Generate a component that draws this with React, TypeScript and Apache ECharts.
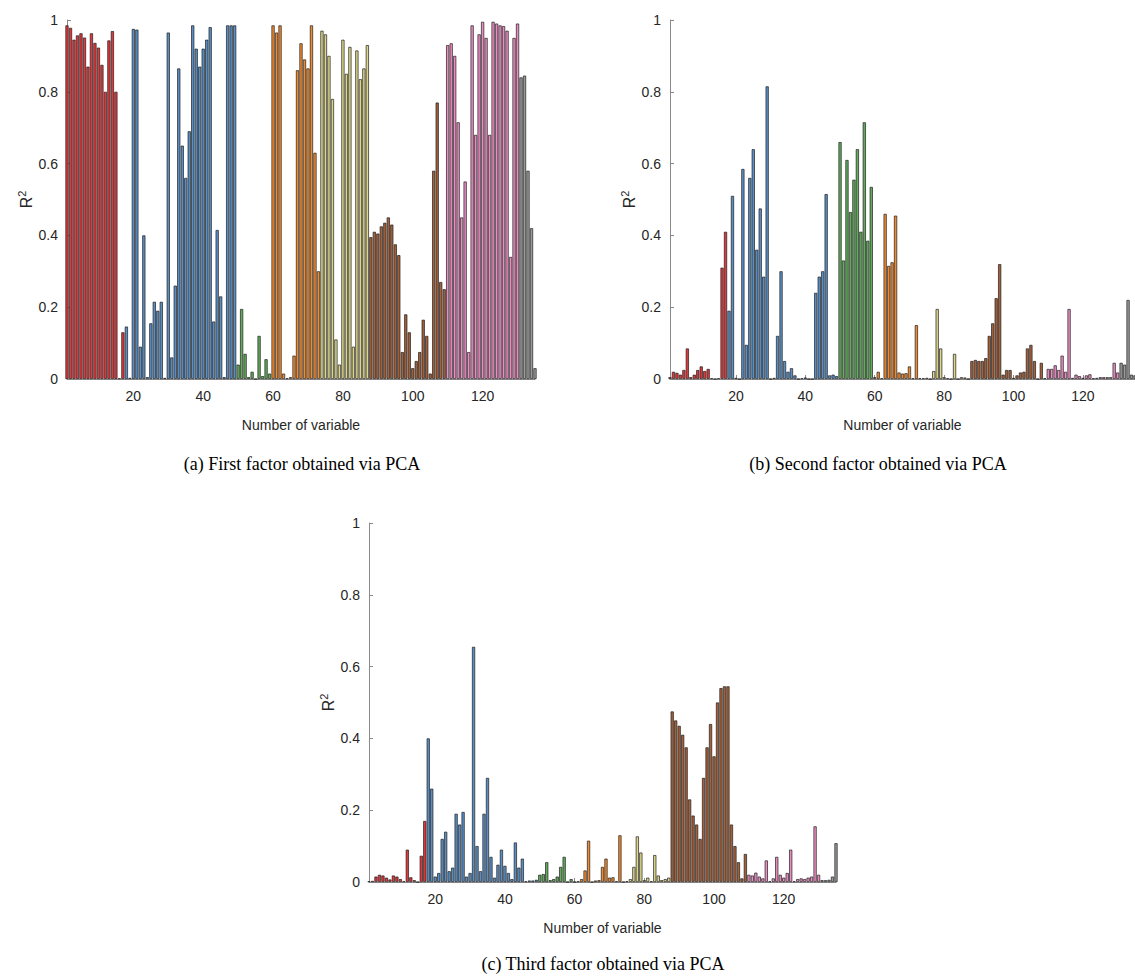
import React, { useEffect, useRef } from "react";
import * as echarts from "echarts";

// ---------- data ----------
const variableCount = 135;
// first variable index of each colour group
const groupStarts = [1, 18, 50, 60, 74, 88, 110, 131];
const groupColors = ["#e2373b", "#5a8fc6", "#62ad5b", "#f28a2e", "#ddd68a", "#a5603a", "#ec8cc1", "#9a9a9a"];
const xTickValues = [20, 40, 60, 80, 100, 120];

// (a) R^2 with the first factor
const firstFactor = [
  0.985, 0.978, 0.945, 0.957, 0.963, 0.951, 0.87, 0.963, 0.936, 0.923, 0.875, 0.8, 0.943, 0.969, 0.8, 0.002, 0.13,
  0.146, 0.003, 0.975, 0.973, 0.09, 0.4, 0.005, 0.155, 0.215, 0.19, 0.215, 0.003, 0.965, 0.06, 0.26, 0.865, 0.65, 0.56,
  0.69, 0.985, 0.92, 0.87, 0.92, 0.945, 0.98, 0.16, 0.415, 0.23, 0.005, 0.985, 0.985, 0.985,
  0.04, 0.195, 0.07, 0.005, 0.02, 0.0, 0.12, 0.008, 0.055, 0.015,
  0.985, 0.965, 0.985, 0.015, 0.002, 0.005, 0.065, 0.86, 0.935, 0.89, 0.865, 0.985, 0.63, 0.3,
  0.97, 0.96, 0.9, 0.78, 0.11, 0.04, 0.945, 0.85, 0.925, 0.09, 0.915, 0.835, 0.865, 0.93,
  0.395, 0.41, 0.405, 0.425, 0.435, 0.45, 0.43, 0.375, 0.345, 0.075, 0.18, 0.13, 0.03, 0.05, 0.075, 0.165, 0.12, 0.015,
  0.58, 0.77, 0.27, 0.25,
  0.93, 0.935, 0.9, 0.715, 0.45, 0.55, 0.075, 0.985, 0.68, 0.96, 0.995, 0.95, 0.68, 0.995, 0.99, 0.985, 0.983, 0.97,
  0.34, 0.95, 0.99,
  0.84, 0.845, 0.58, 0.42, 0.03,
];

// (b) R^2 with the second factor
const secondFactor = [
  0.005, 0.02, 0.017, 0.012, 0.025, 0.085, 0.005, 0.012, 0.025, 0.035, 0.022, 0.028, 0.002, 0.0, 0.002, 0.31, 0.41,
  0.19, 0.51, 0.003, 0.0, 0.585, 0.095, 0.56, 0.64, 0.36, 0.475, 0.285, 0.815, 0.0, 0.003, 0.12, 0.3, 0.05, 0.02, 0.03,
  0.01, 0.0, 0.002, 0.004, 0.0, 0.0, 0.24, 0.285, 0.3, 0.515, 0.01, 0.012, 0.008,
  0.66, 0.33, 0.61, 0.465, 0.555, 0.64, 0.41, 0.715, 0.385, 0.535,
  0.005, 0.02, 0.002, 0.46, 0.315, 0.325, 0.455, 0.018, 0.015, 0.016, 0.035, 0.002, 0.15, 0.002,
  0.002, 0.003, 0.0, 0.022, 0.195, 0.085, 0.005, 0.002, 0.0, 0.07, 0.0, 0.005, 0.004, 0.0,
  0.05, 0.053, 0.05, 0.05, 0.058, 0.12, 0.155, 0.225, 0.32, 0.012, 0.025, 0.025, 0.003, 0.01, 0.018, 0.02, 0.085, 0.095,
  0.05, 0.0, 0.045, 0.002,
  0.028, 0.028, 0.038, 0.025, 0.065, 0.02, 0.195, 0.003, 0.012, 0.008, 0.003, 0.01, 0.013, 0.002, 0.003, 0.005, 0.005,
  0.005, 0.005, 0.045, 0.018,
  0.045, 0.04, 0.22, 0.012, 0.01,
];

// (c) R^2 with the third factor
const thirdFactor = [
  0.002, 0.003, 0.015, 0.02, 0.018, 0.012, 0.007, 0.018, 0.015, 0.008, 0.002, 0.09, 0.013, 0.005, 0.0, 0.073, 0.17,
  0.4, 0.26, 0.015, 0.025, 0.12, 0.14, 0.03, 0.04, 0.19, 0.16, 0.195, 0.015, 0.025, 0.655, 0.1, 0.03, 0.19, 0.29, 0.07,
  0.012, 0.048, 0.09, 0.045, 0.025, 0.008, 0.11, 0.04, 0.065, 0.002, 0.004, 0.004, 0.006,
  0.02, 0.022, 0.055, 0.005, 0.008, 0.015, 0.042, 0.07, 0.0, 0.008,
  0.0, 0.002, 0.008, 0.032, 0.115, 0.0, 0.004, 0.005, 0.042, 0.065, 0.012, 0.013, 0.002, 0.13,
  0.0, 0.002, 0.008, 0.042, 0.127, 0.082, 0.005, 0.012, 0.002, 0.075, 0.018, 0.005, 0.008, 0.012,
  0.475, 0.45, 0.435, 0.41, 0.375, 0.23, 0.185, 0.16, 0.12, 0.29, 0.375, 0.44, 0.35, 0.5, 0.54, 0.545, 0.545, 0.16,
  0.1, 0.055, 0.01, 0.078,
  0.02, 0.018, 0.026, 0.015, 0.01, 0.06, 0.002, 0.01, 0.07, 0.02, 0.012, 0.025, 0.09, 0.002, 0.008, 0.01, 0.008,
  0.012, 0.015, 0.155, 0.02,
  0.005, 0.005, 0.006, 0.015, 0.108,
];

const captions = [
  "(a) First factor obtained via PCA",
  "(b) Second factor obtained via PCA",
  "(c) Third factor obtained via PCA",
];
const xAxisTitle = "Number of variable";

// ---------- layout ----------
const panels = [
  { left: 67, top: 20, width: 468, height: 359, capX: 302, capY: 464 },
  { left: 670, top: 20, width: 468, height: 359, capX: 878, capY: 464 },
  { left: 369, top: 523, width: 467, height: 359, capX: 603, capY: 964 },
];

const colorOf = (n: number) => {
  let g = 0;
  for (let k = 0; k < groupStarts.length; k++) if (n >= groupStarts[k]) g = k;
  return groupColors[g];
};

const sans = "'Liberation Sans', Arial, Helvetica, sans-serif";
const serif = "'Liberation Serif', 'Times New Roman', serif";
const axisGray = "#8a8a8a";
const textDark = "#262626";

export default function App() {
  const ref = useRef<HTMLDivElement>(null);

  useEffect(() => {
    if (!ref.current) return;
    const chart = echarts.init(ref.current, undefined, { renderer: "svg" });
    const datasets = [firstFactor, secondFactor, thirdFactor];

    const grid = panels.map((p) => ({ left: p.left, top: p.top, width: p.width, height: p.height }));

    const xAxis = panels.map((p, i) => ({
      type: "value",
      gridIndex: i,
      min: 1,
      max: variableCount,
      name: xAxisTitle,
      nameLocation: "middle",
      nameGap: 39,
      nameTextStyle: { fontFamily: sans, fontSize: 14, color: textDark },
      axisLine: { show: true, lineStyle: { color: axisGray, width: 1 } },
      axisTick: { show: true, inside: true, length: 4, lineStyle: { color: axisGray }, customValues: xTickValues },
      axisLabel: { fontFamily: sans, fontSize: 14, color: textDark, margin: 10, customValues: xTickValues },
      splitLine: { show: false },
    }));

    const yAxis = panels.map((p, i) => ({
      type: "value",
      gridIndex: i,
      min: 0,
      max: 1,
      interval: 0.2,
      name: "{r|R}{s|2}",
      nameLocation: "middle",
      nameRotate: 90,
      nameGap: 33,
      nameTextStyle: {
        color: textDark,
        rich: {
          r: { fontFamily: sans, fontSize: 16, color: textDark, verticalAlign: "bottom", lineHeight: 18 },
          s: { fontFamily: sans, fontSize: 11, color: textDark, verticalAlign: "top", lineHeight: 18 },
        },
      },
      axisLine: { show: true, lineStyle: { color: axisGray, width: 1 } },
      axisTick: { show: true, inside: true, length: 4, lineStyle: { color: axisGray } },
      axisLabel: { fontFamily: sans, fontSize: 14, color: textDark, margin: 9 },
      splitLine: { show: false },
    }));

    const series = datasets.map((vals, i) => ({
      type: "bar",
      xAxisIndex: i,
      yAxisIndex: i,
      barWidth: (panels[i].width / (variableCount - 1)) * 0.9,
      clip: true,
      data: vals.map((v, k) => ({
        value: [k + 1, v],
        itemStyle: { color: colorOf(k + 1), borderColor: "#1e1e1e", borderWidth: 0.7 },
      })),
    }));

    const graphic = panels.map((p, i) => ({
      type: "text",
      x: p.capX,
      y: p.capY,
      style: {
        text: captions[i],
        fontFamily: serif,
        fontSize: 18,
        fill: "#000",
        align: "center",
        verticalAlign: "middle",
      },
    }));

    chart.setOption({
      animation: false,
      backgroundColor: "#ffffff",
      grid,
      xAxis,
      yAxis,
      series,
      graphic,
    });

    return () => chart.dispose();
  }, []);

  return (
    <div
      ref={ref}
      style={{ position: "absolute", left: 0, top: 0, width: 1135, height: 979, background: "#fff" }}
    />
  );
}
